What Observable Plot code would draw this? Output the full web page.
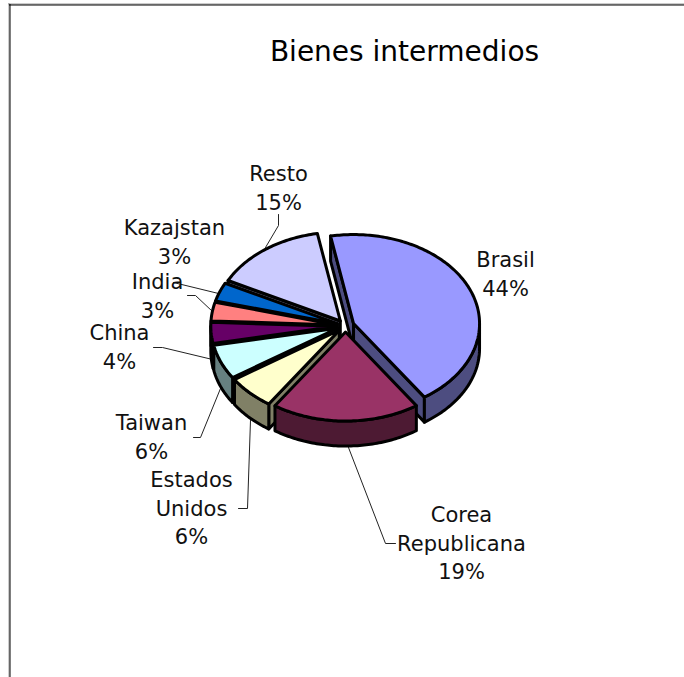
<!DOCTYPE html>
<html><head><meta charset="utf-8">
<style>html,body{margin:0;padding:0;background:#fff;overflow:hidden}svg{display:block}</style>
<script src="https://cdn.jsdelivr.net/npm/d3@7"></script>
<script src="https://cdn.jsdelivr.net/npm/@observablehq/plot@0.6"></script>
</head><body><div id="chart"></div>
<script>
const titleText = "Bienes intermedios";
const categories = ["Brasil","Corea\nRepublicana","Estados\nUnidos","Taiwan","China","India","Kazajstan","Resto"];
const values = [43.5,19,6.2,6.3,3.8,3.4,3.4,14.6];
const topColors = ["#9999FF","#993366","#FFFFCC","#CCFFFF","#660066","#FF8080","#0066CC","#CCCCFF"];
const sideColors = ["#4D4D80","#4D1A33","#808066","#668080","#330033","#804040","#003366","#666680"];

// layout of the pie projection and label placement
const W = 684, H = 677;
const cx = 345, cy = 325.4, rx = 126, ry = 89, depth = 25, explode = 8.7, startDeg = -10.5;
const labelX = [505,461,191,151,119,157,174,278];
const labelY = [272,541,506,435,345,294,240,186];
const leaders = [
  [], [[348,447],[385,543],[395,543]], [[250,420],[247,508],[238,508]],
  [[220,388],[200,437],[193,437]], [[212,359],[162,347],[153,347]],
  [[212,311],[195,295],[187,295]], [[218,293],[173,282]], [[265,247],[278,225],[278,214]]
];
const labelFont = '"DejaVu Sans"';

const rad = d => d * Math.PI / 180;
const total = d3.sum(values);
let acc = startDeg;
const slices = values.map((v, i) => {
  const a0 = acc, a1 = acc + v / total * 360; acc = a1;
  const mid = rad((a0 + a1) / 2);
  return {i, a0, a1, ox: cx + explode * Math.sin(mid), oy: cy - explode * 0.706 * Math.cos(mid), mid};
});
const rim = (s, a, z = 0) => [s.ox + rx * Math.sin(rad(a)), s.oy - ry * Math.cos(rad(a)) + z];
const arcPts = (s, a, b, z = 0) => {
  const n = Math.max(2, Math.ceil(Math.abs(b - a)));
  return d3.range(n + 1).map(k => rim(s, a + (b - a) * k / n, z));
};
const poly = (pts, fill) => Plot.line(pts, {x: d => d[0], y: d => d[1], fill, stroke: "#000", strokeWidth: 3,
  curve: "linear-closed", strokeLinejoin: "round"});

const pieMarks = [];
for (const s of slices.slice().sort((p, q) => Math.cos(q.mid) - Math.cos(p.mid))) {
  const side = sideColors[s.i], apex = [s.ox, s.oy], apexLow = [s.ox, s.oy + depth];
  const radial = a => [apex, rim(s, a), rim(s, a, depth), apexLow];
  if (Math.sin(rad(s.a0)) < 0) pieMarks.push(poly(radial(s.a0), side));
  if (Math.sin(rad(s.a1)) > 0) pieMarks.push(poly(radial(s.a1), side));
  const w0 = Math.max(s.a0, 90), w1 = Math.min(s.a1, 270);
  if (w1 > w0) pieMarks.push(poly([...arcPts(s, w0, w1), ...arcPts(s, w1, w0, depth)], side));
  pieMarks.push(poly([apex, ...arcPts(s, s.a0, s.a1)], topColors[s.i]));
}

const labels = categories.map((c, i) => ({
  text: `${c}\n${Math.round(values[i])}%`, x: labelX[i], y: labelY[i]
}));

const plot = Plot.plot({
  width: W, height: H, margin: 0,
  x: {domain: [0, W], range: [0, W], axis: null},
  y: {domain: [0, H], range: [0, H], axis: null},
  style: {background: "#fff"},
  marks: [
    Plot.ruleX([8.5], {y1: 3, y2: H, stroke: "#999", strokeWidth: 1}),
    Plot.ruleY([3.5], {x1: 8, x2: W, stroke: "#999", strokeWidth: 1}),
    Plot.ruleX([9.5], {y1: 4, y2: H, stroke: "#000", strokeWidth: 1}),
    Plot.ruleY([4.5], {x1: 9, x2: W, stroke: "#000", strokeWidth: 1}),
    ...leaders.filter(l => l.length).map(l => Plot.line(l, {x: d => d[0], y: d => d[1], stroke: "#222", strokeWidth: 1})),
    ...pieMarks,
    Plot.text(labels, {x: "x", y: "y", text: "text", fontFamily: labelFont, fontSize: 21, lineHeight: 1.34, fill: "#111", textAnchor: "middle"}),
    Plot.text([titleText], {x: [404], y: [52], fontFamily: labelFont, fontSize: 28, fill: "#000", textAnchor: "middle"})
  ]
});
document.getElementById("chart").append(plot);
</script></body></html>
